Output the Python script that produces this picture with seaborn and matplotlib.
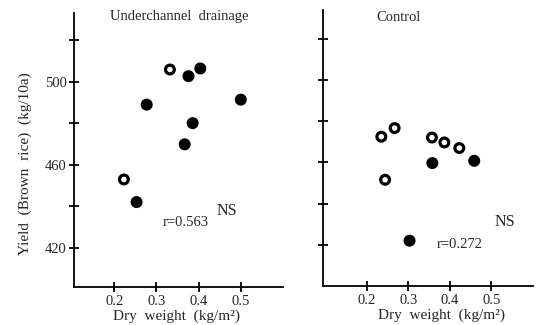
import pandas as pd
import matplotlib
matplotlib.use("Agg")
import matplotlib.pyplot as plt
import seaborn as sns

# Underchannel drainage (left panel)
ud_weight = [0.223, 0.253, 0.277, 0.332, 0.376, 0.404, 0.386, 0.367, 0.500]
ud_yield = [452.9, 442.0, 488.9, 505.8, 502.6, 506.3, 480.0, 469.8, 491.3]
ud_kind = ["open", "filled", "filled", "open", "filled", "filled", "filled", "filled", "filled"]

# Control (right panel)
ct_weight = [0.235, 0.267, 0.244, 0.357, 0.358, 0.387, 0.423, 0.459, 0.303]
ct_yield = [472.5, 476.7, 451.6, 472.1, 459.7, 469.7, 467.0, 460.8, 422.0]
ct_kind = ["open", "open", "open", "open", "filled", "open", "open", "filled", "filled"]

x_ticks = [0.2, 0.3, 0.4, 0.5]
y_ticks = [420, 440, 460, 480, 500, 520]
y_labels = ["420", "", "460", "", "500", ""]

sns.set_style("white")
plt.rcParams["font.family"] = ["Liberation Serif", "DejaVu Serif"]

fig = plt.figure(figsize=(5.37, 3.25), dpi=100)
ax1 = fig.add_axes([0.138, 0.116, 0.389, 0.844])
ax2 = fig.add_axes([0.602, 0.12, 0.39, 0.849])

palette = {"filled": "black", "open": "white"}

df1 = pd.DataFrame({"w": ud_weight, "y": ud_yield, "k": ud_kind})
df2 = pd.DataFrame({"w": ct_weight, "y": ct_yield, "k": ct_kind})

for ax, d in [(ax1, df1), (ax2, df2)]:
    sns.scatterplot(data=d, x="w", y="y", hue="k", palette=palette, ax=ax,
                    s=40, edgecolor="black", linewidth=2.3, legend=False, zorder=3)
    for s in ["top", "right"]:
        ax.spines[s].set_visible(False)
    for s in ["left", "bottom"]:
        ax.spines[s].set_color("black")
        ax.spines[s].set_linewidth(1.3)
    ax.set_xticks(x_ticks)
    ax.set_xticklabels([str(t) for t in x_ticks], fontsize=10.5)
    ax.set_yticks(y_ticks)
    ax.tick_params(axis="both", bottom=True, left=True, direction="inout",
                   length=7, width=1.3, color="black", pad=2)
    ax.set_xlabel("Dry  weight  (kg/m²)", fontsize=11)
    ax.set_ylabel("")

ax1.set_xlim(0.105, 0.6)
ax1.set_ylim(401, 533)
ax1.set_yticklabels(y_labels, fontsize=10.5)
ax1.set_ylabel("Yield  (Brown  rice)  (kg/10a)", fontsize=11)
ax1.yaxis.set_label_coords(-0.2, 0.45)
ax1.xaxis.set_label_coords(0.49, -0.08)

ax2.set_xlim(0.095, 0.6)
ax2.set_ylim(400, 534)
ax2.set_yticklabels([])
ax2.xaxis.set_label_coords(0.564, -0.083)

ax1.text(0.354, 531.5, "Underchannel  drainage", fontsize=10.5, ha="center", va="center")
ax1.text(0.467, 437.7, "NS", fontsize=11.5, ha="center", va="center")
ax1.text(0.37, 432.4, "r=0.563", fontsize=10.5, ha="center", va="center")

ax2.text(0.277, 530.5, "Control", fontsize=10.5, ha="center", va="center")
ax2.text(0.532, 431, "NS", fontsize=11.5, ha="center", va="center")
ax2.text(0.424, 420, "r=0.272", fontsize=10.5, ha="center", va="center")

plt.savefig("out.png", dpi=100)
